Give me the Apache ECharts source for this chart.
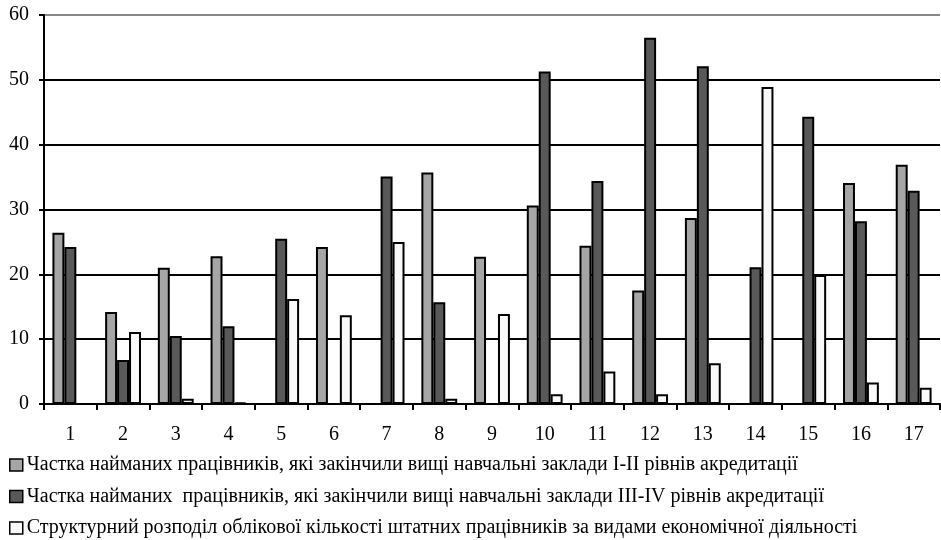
<!DOCTYPE html>
<html>
<head>
<meta charset="UTF-8">
<title></title>
<style>
  html, body { margin: 0; padding: 0; background: #fff; }
  #main { width: 941px; height: 540px; }
</style>
</head>
<body>
<div id="main"></div>
<script src="https://cdn.jsdelivr.net/npm/echarts@6/dist/echarts.min.js"></script>
<script>
// категорії (види діяльності)
var categories = ['1','2','3','4','5','6','7','8','9','10','11','12','13','14','15','16','17'];
var seriesNames = [
  'Частка найманих працівників, які закінчили вищі навчальні заклади I-II рівнів акредитації',
  'Частка найманих  працівників, які закінчили вищі навчальні заклади III-IV рівнів акредитації',
  'Структурний розподіл облікової кількості штатних працівників за видами економічної діяльності'
];
var level12 = [26.4, 14.2, 21.0, 22.8, 0, 24.2, 0, 35.7, 22.7, 30.6, 24.4, 17.5, 28.7, 0, 0, 34.1, 36.9];
var level34 = [24.2, 6.8, 10.5, 12.0, 25.5, 0, 35.1, 15.7, 0, 51.3, 34.4, 56.5, 52.1, 21.1, 44.3, 28.2, 32.9];
var structure = [0, 11.1, 0.8, 0.2, 16.2, 13.7, 25.0, 0.8, 13.9, 1.5, 5.0, 1.5, 6.3, 48.9, 19.9, 3.3, 2.5];
var yTicks = [0, 10, 20, 30, 40, 50, 60];

var colors = ['#a6a6a6', '#595959', '#f9f9f9'];
var font = '"Liberation Serif", "Times New Roman", serif';

function bar(name, data, color) {
  return {
    name: name,
    type: 'bar',
    data: data,
    barGap: 0,
    barCategoryGap: '32%',
    itemStyle: { color: color, borderColor: '#000', borderWidth: 2 },
    emphasis: { disabled: true }
  };
}

var myChart = echarts.init(document.getElementById('main'));
var option = {
  animation: false,
  textStyle: { fontFamily: font },
  grid: { left: 44, right: 1, top: 15, bottom: 136 },
  legend: {
    orient: 'vertical',
    left: 9,
    top: 455,
    padding: 0,
    itemGap: 11.5,
    itemWidth: 13,
    itemHeight: 12,
    icon: 'rect',
    itemStyle: { borderWidth: 1.5 },
    textStyle: { fontFamily: font, fontSize: 20, lineHeight: 20, color: '#000', padding: [0, 0, 0, -1] },
    data: seriesNames
  },
  xAxis: {
    type: 'category',
    data: categories,
    axisLine: { lineStyle: { color: '#000', width: 2 } },
    axisTick: { show: true, length: 6, lineStyle: { color: '#000', width: 2 } },
    axisLabel: { color: '#000', fontSize: 20, lineHeight: 20, fontFamily: font, margin: 21 }
  },
  yAxis: {
    type: 'value',
    min: yTicks[0],
    max: yTicks[yTicks.length - 1],
    interval: 10,
    axisLine: { show: true, lineStyle: { color: '#000', width: 2 } },
    axisTick: { show: true, length: 5, lineStyle: { color: '#000', width: 2 } },
    axisLabel: { color: '#000', fontSize: 20, fontFamily: font, margin: 15 },
    splitLine: { show: true, lineStyle: { color: ['#000', '#000', '#000', '#000', '#000', '#000', '#888'], width: 2 } }
  },
  series: [
    bar(seriesNames[0], level12, colors[0]),
    bar(seriesNames[1], level34, colors[1]),
    bar(seriesNames[2], structure, colors[2])
  ]
};
myChart.setOption(option);
</script>
</body>
</html>
